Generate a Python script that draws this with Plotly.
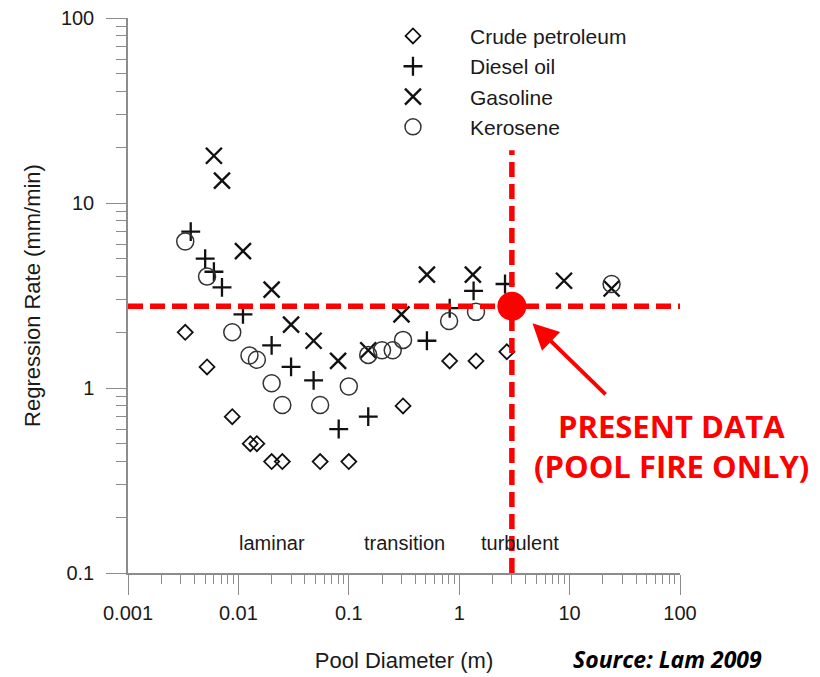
import math
import plotly.graph_objects as go

# ---------------- data ----------------
crude_x = [0.0033, 0.0052, 0.0088, 0.0128, 0.0147, 0.020, 0.025, 0.055, 0.10, 0.31, 0.82, 1.42, 2.7]
crude_y = [2.0, 1.3, 0.7, 0.5, 0.5, 0.4, 0.4, 0.4, 0.4, 0.8, 1.4, 1.4, 1.57]

diesel_x = [0.0037, 0.0050, 0.0060, 0.0071, 0.011, 0.020, 0.030, 0.048, 0.081, 0.15, 0.51, 0.82, 1.35, 2.6]
diesel_y = [7.0, 5.0, 4.25, 3.5, 2.5, 1.7, 1.3, 1.1, 0.6, 0.7, 1.8, 2.7, 3.35, 3.65]

gasoline_x = [0.006, 0.0071, 0.011, 0.020, 0.030, 0.048, 0.080, 0.15, 0.30, 0.51, 1.33, 8.9, 24]
gasoline_y = [18, 13.2, 5.5, 3.4, 2.2, 1.8, 1.4, 1.6, 2.5, 4.1, 4.1, 3.8, 3.45]

kerosene_x = [0.0033, 0.0052, 0.0088, 0.0126, 0.0147, 0.020, 0.025, 0.055, 0.10, 0.15, 0.20, 0.25, 0.31, 0.81, 1.42, 24]
kerosene_y = [6.2, 4.0, 2.0, 1.5, 1.42, 1.06, 0.81, 0.81, 1.02, 1.51, 1.6, 1.6, 1.82, 2.3, 2.58, 3.65]

present_x = [3.0]
present_y = [2.77]

hline_x = [0.001, 100]
vline_y = [0.1, 19.3]

regime_labels = ["laminar", "transition", "turbulent"]
regime_x = [0.0202, 0.32, 3.52]
regime_y = 0.145

x_ticks = [0.001, 0.01, 0.1, 1, 10, 100]
x_ticktext = ["0.001", "0.01", "0.1", "1", "10", "100"]
y_ticks = [0.1, 1, 10, 100]
y_ticktext = ["0.1", "1", "10", "100"]
x_minor = [k * 10.0 ** e for e in range(-3, 2) for k in range(2, 10)]
y_minor = [k * 10.0 ** e for e in range(-1, 2) for k in range(2, 10)]

FONT = "Liberation Sans, Arial, sans-serif"
CAL = "Open Sans, Liberation Sans, sans-serif"
RED = "#ff0000"
AXC = "#8c8c8c"

fig = go.Figure()

fig.add_trace(go.Scatter(x=crude_x, y=crude_y, mode="markers", name="Crude petroleum",
                         marker=dict(symbol="diamond-open", size=11.5, color="#111",
                                     line=dict(width=1.8, color="#111"))))
fig.add_trace(go.Scatter(x=diesel_x, y=diesel_y, mode="markers", name="Diesel oil",
                         marker=dict(symbol="cross-thin-open", size=13.5, color="#111",
                                     line=dict(width=2.3, color="#111"))))
fig.add_trace(go.Scatter(x=gasoline_x, y=gasoline_y, mode="markers", name="Gasoline",
                         marker=dict(symbol="x-thin-open", size=16, color="#111",
                                     line=dict(width=2.4, color="#111"))))
fig.add_trace(go.Scatter(x=kerosene_x, y=kerosene_y, mode="markers", name="Kerosene",
                         marker=dict(symbol="circle-open", size=17, color="#333",
                                     line=dict(width=1.5, color="#333"))))

# red reference lines through the present data point
fig.add_trace(go.Scatter(x=hline_x, y=[present_y[0]] * 2, mode="lines", showlegend=False,
                         line=dict(color=RED, width=5.5, dash="15px,7px"), hoverinfo="skip"))
fig.add_trace(go.Scatter(x=[present_x[0]] * 2, y=vline_y, mode="lines", showlegend=False,
                         line=dict(color=RED, width=5.5, dash="15px,7px"), hoverinfo="skip"))
fig.add_trace(go.Scatter(x=present_x, y=present_y, mode="markers", showlegend=False,
                         marker=dict(symbol="circle", size=29, color=RED), hoverinfo="skip"))

axis_common = dict(
    type="log", showgrid=False, zeroline=False, showline=True, automargin=False,
    linecolor=AXC, linewidth=1.5, ticks="outside", ticklen=20, tickwidth=1.2,
    tickcolor=AXC, tickfont=dict(family=FONT, size=20, color="#1a1a1a"),
    mirror=False, tickmode="array",
)

fig.update_layout(
    width=820, height=677,
    margin=dict(l=128, r=140, t=18, b=104),
    paper_bgcolor="white", plot_bgcolor="white",
    font=dict(family=FONT, size=20, color="#1a1a1a"),
    xaxis=dict(axis_common, range=[-3, 2], tickvals=x_ticks, ticktext=x_ticktext,
               ticklabelstandoff=1,
               minor=dict(tickmode="array", tickvals=x_minor, ticks="outside", ticklen=9,
                          tickwidth=1.2, tickcolor=AXC, showgrid=False),
               title=dict(text="Pool Diameter (m)", font=dict(family=FONT, size=22, color="#1a1a1a"),
                          standoff=30)),
    yaxis=dict(axis_common, range=[-1, 2], tickvals=y_ticks, ticktext=y_ticktext,
               ticklabelstandoff=8,
               minor=dict(tickmode="array", tickvals=y_minor, ticks="outside", ticklen=10,
                          tickwidth=1.2, tickcolor=AXC, showgrid=False),
               title=dict(text="Regression Rate (mm/min)", font=dict(family=FONT, size=22, color="#1a1a1a"),
                          standoff=14)),
    legend=dict(x=0.413, y=1.004, xanchor="left", yanchor="top", bgcolor="rgba(0,0,0,0)",
                font=dict(family=FONT, size=21, color="#1a1a1a"), itemwidth=104,
                tracegroupgap=0),
    showlegend=True,
)

annotations = []
for lab, lx in zip(regime_labels, regime_x):
    annotations.append(dict(x=math.log10(lx), y=math.log10(regime_y), xref="x", yref="y",
                            text=lab, showarrow=False, xanchor="center", yanchor="middle",
                            font=dict(family=FONT, size=20, color="#1a1a1a")))

# arrow pointing at the present data point
annotations.append(dict(x=math.log10(4.61), y=math.log10(2.24), xref="x", yref="y",
                        ax=74.6, ay=72.7, text="", showarrow=True, arrowhead=2,
                        arrowsize=1.3, arrowwidth=4, arrowcolor=RED))
annotations.append(dict(x=0.9855, y=0.265, xref="paper", yref="paper", text="<b>PRESENT DATA</b>",
                        showarrow=False, xanchor="center", yanchor="middle",
                        font=dict(family=CAL, size=31, color=RED)))
annotations.append(dict(x=0.9855, y=0.193, xref="paper", yref="paper", text="<b>(POOL FIRE ONLY)</b>",
                        showarrow=False, xanchor="center", yanchor="middle",
                        font=dict(family=CAL, size=31, color=RED)))
annotations.append(dict(x=0.978, y=-0.155, xref="paper", yref="paper", text="<b><i>Source: Lam 2009</i></b>",
                        showarrow=False, xanchor="center", yanchor="middle",
                        font=dict(family=CAL, size=23, color="#000")))
fig.update_layout(annotations=annotations)

fig.write_html("out.html", config={"displayModeBar": False},
               post_script="document.body.style.margin='0';document.body.style.overflow='hidden';")
